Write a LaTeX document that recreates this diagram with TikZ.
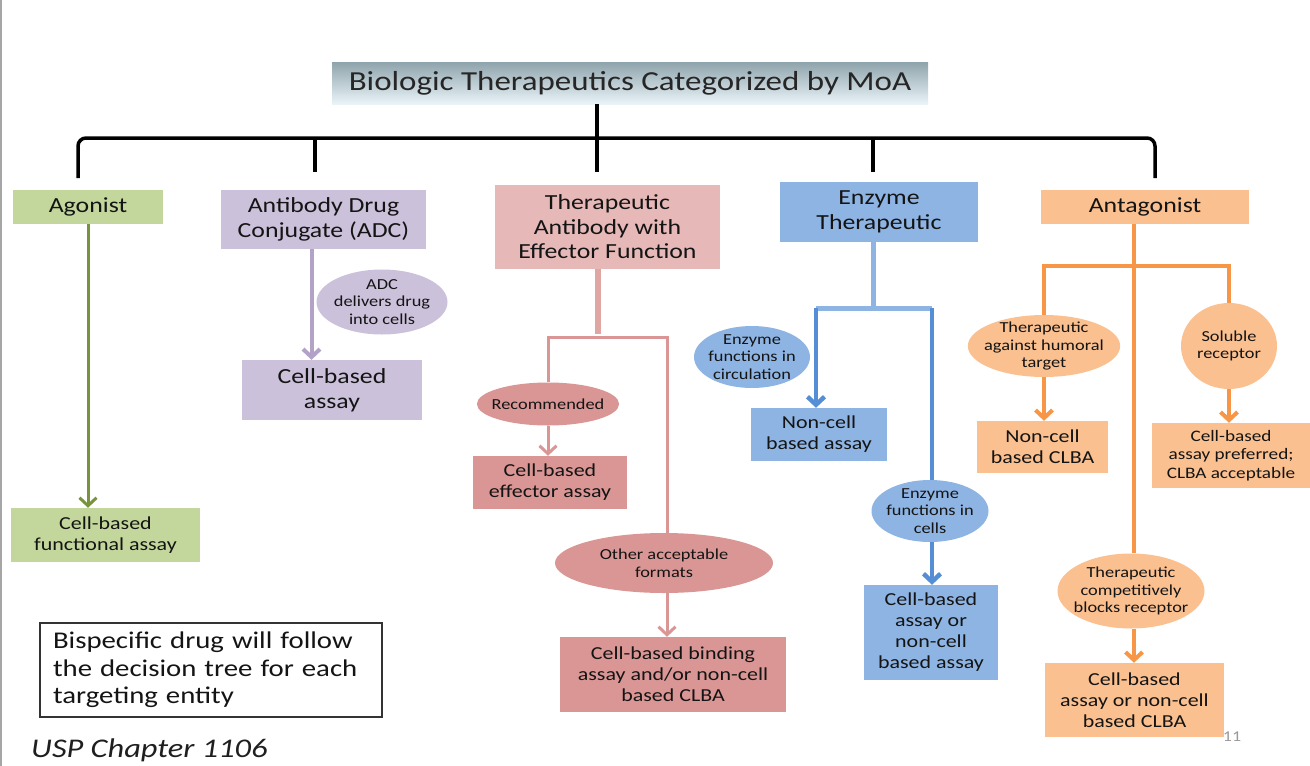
\documentclass[tikz,border=0pt]{standalone}
\usepackage{fontspec}
\setmainfont{Carlito}[FakeStretch=1.2]
\usetikzlibrary{arrows.meta, positioning, shapes.geometric}

\definecolor{agofill}{HTML}{C3D69B}
\definecolor{agoline}{HTML}{77933C}
\definecolor{adcfill}{HTML}{CCC1DA}
\definecolor{adcline}{HTML}{B3A2C7}
\definecolor{tabfill}{HTML}{E6B9B8}
\definecolor{tabdark}{HTML}{D99694}
\definecolor{enzfill}{HTML}{8EB4E3}
\definecolor{enzline}{HTML}{558ED5}
\definecolor{antfill}{HTML}{FAC090}
\definecolor{antline}{HTML}{F79646}
\definecolor{titletop}{HTML}{8FA3AC}
\definecolor{titlebot}{HTML}{E9F4F8}

\begin{document}
\begin{tikzpicture}[x=1pt, y=-1pt,
    box/.style={align=center, inner sep=0pt, text=black!92},
    oval/.style={ellipse, align=center, inner sep=-6pt, text=black!92, font=\fontsize{15.3}{17.5}\selectfont},
    bigtxt/.style={font=\fontsize{21.5}{24.5}\selectfont},
    midtxt/.style={font=\fontsize{18.3}{21}\selectfont},
    smalltxt/.style={font=\fontsize{16}{18.3}\selectfont},
    bracket/.style={line width=3.5pt, rounded corners=8pt},
    stem/.style={line width=4.5pt},
    arrow/.style={-{Straight Barb[length=8pt, width=17pt]}}
]
    \useasboundingbox (0,0) rectangle (1310,766);
    \draw[black!35, line width=1.5pt] (1,0) -- (1,766);

    \node[box, minimum width=596pt, minimum height=42pt, top color=titletop, bottom color=titlebot, text=black!85, font=\fontsize{27.5}{30}\selectfont] (title) at (630,83) {Biologic Therapeutics Categorized by MoA};

    \node[box, bigtxt, fill=agofill, minimum width=150pt, minimum height=34pt] (ago) at (88,207) {Agonist};
    \node[box, bigtxt, fill=adcfill, minimum width=205pt, minimum height=59pt] (adc) at (323.5,219.5) {Antibody Drug\\ Conjugate (ADC)};
    \node[box, bigtxt, fill=tabfill, minimum width=225pt, minimum height=84pt] (tab) at (607.5,227) {Therapeutic\\ Antibody with\\ Effector Function};
    \node[box, bigtxt, fill=enzfill, minimum width=198pt, minimum height=60pt] (enz) at (879,212) {Enzyme\\ Therapeutic};
    \node[box, bigtxt, fill=antfill, minimum width=208pt, minimum height=34pt] (ant) at (1145,207) {Antagonist};

    \node[box, midtxt, fill=agofill, minimum width=189pt, minimum height=54pt] (agoassay) at (105.5,535) {Cell-based\\ functional assay};

    \node[oval, fill=adcfill, minimum width=131pt, minimum height=65pt] (adcnote) at (382,302) {ADC\\ delivers drug\\ into cells};
    \node[box, font=\fontsize{21.5}{25}\selectfont, fill=adcfill, minimum width=180pt, minimum height=60pt] (adcassay) at (332,390) {Cell-based\\ assay};

    \node[oval, fill=tabdark, minimum width=139pt, minimum height=43pt] (rec) at (548,404) {Recommended};
    \node[box, midtxt, fill=tabdark, minimum width=154pt, minimum height=53pt] (eff) at (550,482.5) {Cell-based\\ effector assay};
    \node[oval, fill=tabdark, minimum width=218pt, minimum height=60pt] (other) at (664,563) {Other acceptable\\ formats};
    \node[box, midtxt, fill=tabdark, minimum width=226pt, minimum height=75pt] (bind) at (673,674.5) {Cell-based binding\\ assay and/or non-cell\\ based CLBA};

    \node[oval, fill=enzfill, minimum width=116pt, minimum height=62pt] (circ) at (752,357) {Enzyme\\ functions in\\ circulation};
    \node[box, midtxt, fill=enzfill, minimum width=136pt, minimum height=53pt] (noncell) at (819,434.5) {Non-cell\\ based assay};
    \node[oval, fill=enzfill, minimum width=117pt, minimum height=62pt] (cells) at (930,511) {Enzyme\\ functions in\\ cells};
    \node[box, midtxt, fill=enzfill, minimum width=134pt, minimum height=95pt] (cellor) at (931,632.5) {Cell-based\\ assay or\\ non-cell\\ based assay};

    \node[oval, fill=antfill, minimum width=138pt, minimum height=62pt] (humoral) at (1044,346) {Therapeutic\\ against humoral\\ target};
    \node[box, midtxt, fill=antfill, minimum width=131pt, minimum height=52pt] (clba) at (1042.5,447) {Non-cell\\ based CLBA};
    \node[oval, fill=antfill, minimum width=96pt, minimum height=86pt] (soluble) at (1229,346) {Soluble\\ receptor};
    \node[box, smalltxt, fill=antfill, minimum width=158pt, minimum height=65pt] (pref) at (1231,455.5) {Cell-based\\ assay preferred;\\ CLBA acceptable};
    \node[oval, fill=antfill, minimum width=147pt, minimum height=75pt] (comp) at (1131,591) {Therapeutic\\ competitively\\ blocks receptor};
    \node[box, midtxt, fill=antfill, minimum width=179pt, minimum height=74pt] (orclba) at (1134.5,700) {Cell-based\\ assay or non-cell\\ based CLBA};

    \node[box, draw=black!80, line width=1.2pt, align=left, inner xsep=13pt, text width=316pt, minimum height=94pt, font=\fontsize{24}{27.5}\selectfont] (note) at (211,670) {Bispecific drug will follow\\ the decision tree for each\\ targeting entity};
    \node[anchor=west, inner sep=0pt, text=black!88, font=\itshape\fontsize{27}{30}\selectfont] (usp) at (31,750) {USP Chapter 1106};
    \node[text=black!40, font=\fontsize{15}{17}\selectfont] (pagenum) at (1232,737) {11};

    \coordinate (agotop) at (78,178);
    \coordinate (adctop) at (315,172);
    \coordinate (tabtop) at (597,172);
    \coordinate (enztop) at (873,172);
    \coordinate (anttop) at (1155,178);
    \coordinate (barmid) at (597,138);
    \draw[bracket] (agotop) |- (barmid) -| (anttop);
    \draw[stem] (title.south -| tabtop) -- (tabtop);
    \draw[stem] (adctop) -- (adctop |- barmid);
    \draw[stem] (enztop) -- (enztop |- barmid);

    \draw[line width=3pt, agoline, arrow] (ago.south) -- (ago.south |- agoassay.north);
    \draw[line width=4pt, adcline, arrow] ([xshift=-12pt]adc.south) -- ([xshift=-12pt]adc.south |- adcassay.north);

    \coordinate (pfork) at (598,337);
    \draw[line width=5.5pt, tabdark!85] (tab.south -| pfork) -- ([yshift=3pt]pfork);
    \draw[line width=3pt, tabdark] (rec.north) |- (pfork) -| ([xshift=3pt]other.north);
    \draw[line width=3pt, tabdark, arrow] (rec.south) -- (rec.south |- eff.north);
    \draw[line width=3pt, tabdark, arrow] ([xshift=3pt]other.south) -- ([xshift=3pt]other.south |- bind.north);

    \coordinate (efork) at (873,308);
    \coordinate (eleft) at (816,308);
    \coordinate (eright) at (932,308);
    \draw[line width=5pt, enzfill] (enz.south -| efork) -- (efork) (eleft) -- (eright);
    \draw[line width=4.5pt, enzline, arrow] (eleft) -- (eleft |- noncell.north);
    \draw[line width=4.5pt, enzline] (eright) -- (eright |- cells.north);
    \draw[line width=4.5pt, enzline, arrow] (cells.south -| eright) -- (eright |- cellor.north);

    \coordinate (afork) at (1134,266);
    \draw[line width=4pt, antline] (ant.south -| afork) -- (afork |- comp.north);
    \draw[line width=4pt, antline] (humoral.north) |- (afork) -| (soluble.north);
    \draw[line width=4pt, antline, arrow] (humoral.south) -- (humoral.south |- clba.north);
    \draw[line width=4pt, antline, arrow] (soluble.south) -- (soluble.south |- pref.north);
    \draw[line width=4pt, antline, arrow] (comp.south -| afork) -- (afork |- orclba.north);
\end{tikzpicture}
\end{document}
